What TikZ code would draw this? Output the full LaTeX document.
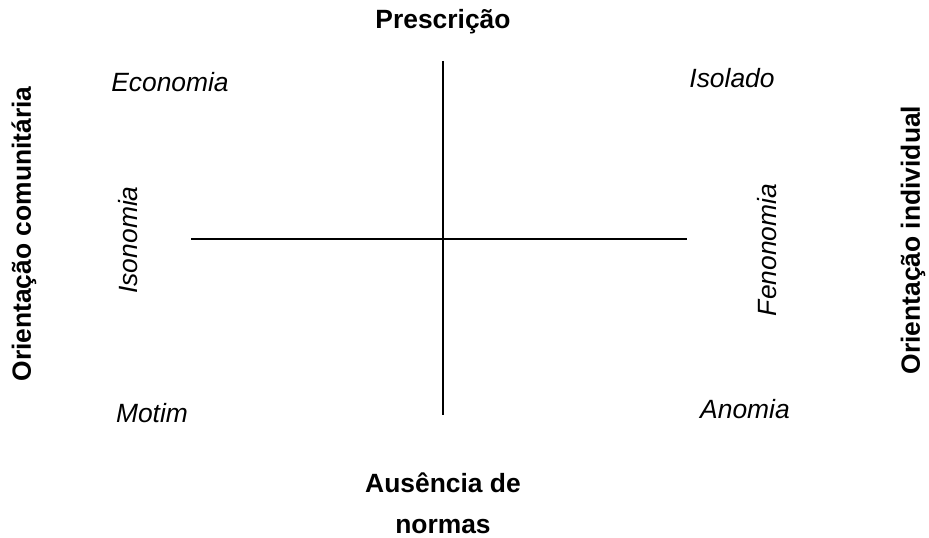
\documentclass[tikz,border=0pt]{standalone}
\usepackage{fontspec}
\setmainfont{Liberation Sans}
\begin{document}
\begin{tikzpicture}[x=0.75pt,y=-0.75pt,
  lbl/.style={font=\fontsize{19.8}{23}\selectfont\itshape, inner sep=0pt},
  ttl/.style={font=\fontsize{19.8}{23}\selectfont\bfseries, inner sep=0pt},
  axis/.style={line width=1.1pt, black}]
\useasboundingbox (0,0) rectangle (929,538);
\coordinate (vt) at (443,61);
\coordinate (vb) at (443,415);
\coordinate (hl) at (191,239);
\coordinate (hr) at (687,239);
\draw[axis] (vt) -- (vb);
\draw[axis] (hl) -- (hr);
\node[ttl] (presc) at (443,22) {Prescrição};
\node[ttl] (aus) at (443,483) {Ausência de};
\node[ttl] (norm) at (443,527) {normas};
\node[ttl, rotate=90] (oc) at (24,234) {Orientação comunitária};
\node[ttl, rotate=90] (oi) at (913,240) {Orientação individual};
\node[lbl] (eco) at (170,82) {Economia};
\node[lbl] (iso) at (732,78) {Isolado};
\node[lbl, rotate=90] (ison) at (128,240) {Isonomia};
\node[lbl, rotate=90] (feno) at (767,250) {Fenonomia};
\node[lbl] (mot) at (152,413) {Motim};
\node[lbl] (ano) at (745,409) {Anomia};
\end{tikzpicture}
\end{document}
